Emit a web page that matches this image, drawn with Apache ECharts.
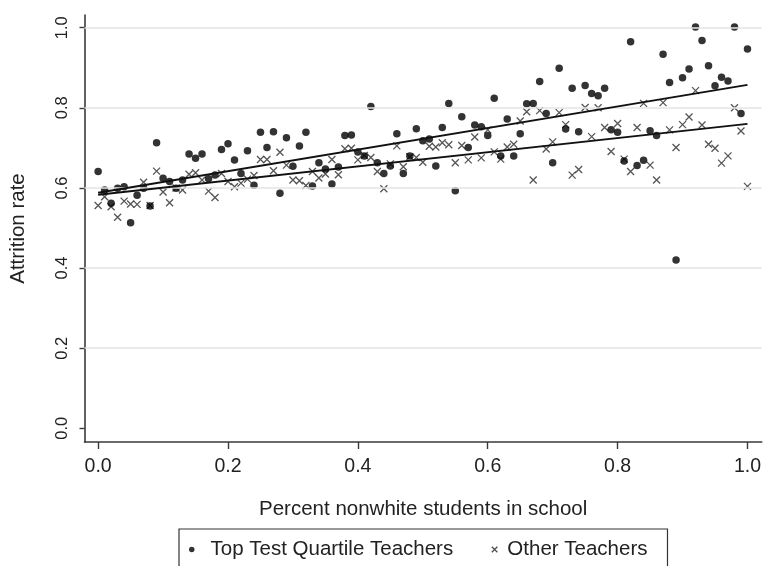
<!DOCTYPE html>
<html>
<head>
<meta charset="utf-8">
<script src="https://cdn.jsdelivr.net/npm/echarts@6/dist/echarts.min.js"></script>
<style>
html,body{margin:0;padding:0;background:#fff;}
#chart{width:764px;height:566px;}
</style>
</head>
<body>
<div id="chart"></div>
<script>
// Percentile bins of "percent nonwhite students in school"
const xBins = [
  0.00,0.01,0.02,0.03,0.04,0.05,0.06,0.07,0.08,0.09,
  0.10,0.11,0.12,0.13,0.14,0.15,0.16,0.17,0.18,0.19,
  0.20,0.21,0.22,0.23,0.24,0.25,0.26,0.27,0.28,0.29,
  0.30,0.31,0.32,0.33,0.34,0.35,0.36,0.37,0.38,0.39,
  0.40,0.41,0.42,0.43,0.44,0.45,0.46,0.47,0.48,0.49,
  0.50,0.51,0.52,0.53,0.54,0.55,0.56,0.57,0.58,0.59,
  0.60,0.61,0.62,0.63,0.64,0.65,0.66,0.67,0.68,0.69,
  0.70,0.71,0.72,0.73,0.74,0.75,0.76,0.77,0.78,0.79,
  0.80,0.81,0.82,0.83,0.84,0.85,0.86,0.87,0.88,0.89,
  0.90,0.91,0.92,0.93,0.94,0.95,0.96,0.97,0.98,0.99,
  1.00
];
// Attrition rate, top test quartile teachers
const topQuartile = [
  0.641,0.595,0.562,0.599,0.603,0.513,0.582,0.599,0.555,0.713,
  0.624,0.616,0.599,0.620,0.685,0.674,0.685,0.623,0.632,0.696,
  0.710,0.670,0.636,0.693,0.607,0.739,0.701,0.740,0.587,0.725,
  0.654,0.705,0.739,0.605,0.663,0.647,0.610,0.652,0.731,0.732,
  0.690,0.680,0.803,0.663,0.636,0.655,0.735,0.636,0.680,0.748,
  0.718,0.722,0.655,0.751,0.811,0.593,0.778,0.701,0.757,0.753,
  0.731,0.824,0.680,0.772,0.680,0.735,0.810,0.811,0.866,0.786,
  0.663,0.899,0.747,0.849,0.740,0.856,0.836,0.830,0.849,0.745,
  0.739,0.667,0.965,0.656,0.669,0.743,0.731,0.934,0.863,0.420,
  0.875,0.897,1.002,0.968,0.905,0.855,0.876,0.867,1.002,0.786,
  0.947
];
// Attrition rate, other teachers
const otherTeachers = [
  0.556,0.578,0.553,0.527,0.567,0.560,0.559,0.614,0.556,0.642,
  0.590,0.563,0.600,0.595,0.634,0.638,0.620,0.592,0.576,0.636,
  0.616,0.603,0.612,0.622,0.631,0.671,0.671,0.643,0.689,0.657,
  0.620,0.618,0.606,0.641,0.625,0.635,0.671,0.633,0.698,0.699,
  0.670,0.681,0.676,0.641,0.598,0.660,0.705,0.653,0.678,0.676,
  0.664,0.704,0.702,0.713,0.708,0.663,0.706,0.670,0.727,0.675,
  0.745,0.690,0.672,0.702,0.709,0.767,0.790,0.620,0.793,0.697,
  0.715,0.788,0.758,0.632,0.646,0.801,0.728,0.800,0.751,0.691,
  0.761,0.672,0.641,0.751,0.811,0.657,0.620,0.813,0.745,0.701,
  0.758,0.777,0.843,0.757,0.709,0.699,0.662,0.680,0.800,0.742,
  0.604
];
// Fitted lines (endpoints)
const fitX = [0, 1];
const topFit = [0.588, 0.857];
const otherFit = [0.583, 0.760];
// Tick labels
const xTicks = [0, 0.2, 0.4, 0.6, 0.8, 1.0];
const yTicks = [0, 0.2, 0.4, 0.6, 0.8, 1.0];
const yGrid = [0.2, 0.4, 0.6, 0.8, 1.0];
const seriesNames = ['Top Test Quartile Teachers', 'Other Teachers'];
const xTitle = 'Percent nonwhite students in school';
const yTitle = 'Attrition rate';

const FONT = '"Liberation Sans", Arial, Helvetica, sans-serif';
const TXT = '#222';
const CROSS = 'path://M0,0L10,10M10,0L0,10';

const chart = echarts.init(document.getElementById('chart'), null, {renderer: 'canvas'});
chart.setOption({
  animation: false,
  backgroundColor: '#fff',
  grid: {left: 83, right: 2, top: 15, bottom: 124, containLabel: false},
  xAxis: {
    type: 'value',
    min: -0.021, max: 1.022,
    name: xTitle,
    nameLocation: 'middle',
    nameGap: 57,
    nameTextStyle: {fontFamily: FONT, fontSize: 20.5, color: TXT},
    axisLine: {show: true, onZero: false, lineStyle: {color: '#3a3a3a', width: 1.6}},
    axisTick: {show: true, length: 7, customValues: xTicks, lineStyle: {color: '#3a3a3a', width: 1.4}},
    axisLabel: {customValues: xTicks, margin: 15, fontFamily: FONT, fontSize: 19.5, color: TXT,
      formatter: v => v.toFixed(1)},
    splitLine: {show: false}
  },
  yAxis: {
    type: 'value',
    min: -0.0342, max: 1.0317,
    name: yTitle,
    nameLocation: 'middle',
    nameRotate: 90,
    nameGap: 55.5,
    nameTextStyle: {fontFamily: FONT, fontSize: 20.5, color: TXT},
    axisLine: {show: true, onZero: false, lineStyle: {color: '#3a3a3a', width: 1.6}},
    axisTick: {show: true, length: 5, customValues: yTicks, lineStyle: {color: '#3a3a3a', width: 1.4}},
    axisLabel: {customValues: yTicks, rotate: 90, margin: 14, fontFamily: FONT, fontSize: 16.5, color: TXT,
      formatter: v => v.toFixed(1)},
    splitLine: {show: false}
  },
  legend: {
    left: 179, top: 529,
    orient: 'horizontal',
    borderColor: '#333', borderWidth: 1.2, borderRadius: 0,
    padding: [10, 20, 12, 10],
    itemWidth: 5.5, itemHeight: 5.5, itemGap: 38,
    textStyle: {fontFamily: FONT, fontSize: 20.5, color: TXT},
    data: [
      {name: seriesNames[0], icon: 'circle', itemStyle: {color: '#000'}, textStyle: {padding: [0, 0, 0, 11]}},
      {name: seriesNames[1], icon: CROSS, itemStyle: {color: '#222', borderColor: '#222', borderWidth: 1.3}, textStyle: {padding: [0, 0, 0, 5]}}
    ]
  },
  series: [
    {
      name: 'grid', type: 'line', data: [], z: 1, silent: true,
      markLine: {
        silent: true, symbol: ['none', 'none'], label: {show: false}, animation: false,
        lineStyle: {color: '#e4e4e4', type: 'solid', width: 1.6},
        data: yGrid.map(v => ({yAxis: v}))
      }
    },
    {
      name: seriesNames[1], type: 'scatter', z: 3,
      symbol: CROSS, symbolSize: 7,
      itemStyle: {color: '#2a2a2a', borderColor: '#2a2a2a', borderWidth: 1.3},
      data: xBins.map((x, i) => [x, otherTeachers[i]])
    },
    {
      name: seriesNames[0], type: 'scatter', z: 4,
      symbol: 'circle', symbolSize: 7.5,
      itemStyle: {color: '#000'},
      data: xBins.map((x, i) => [x, topQuartile[i]])
    },
    {
      name: 'fitTop', type: 'line', z: 5, showSymbol: false, symbol: 'none',
      lineStyle: {color: '#111', width: 1.8},
      data: fitX.map((x, i) => [x, topFit[i]])
    },
    {
      name: 'fitOther', type: 'line', z: 5, showSymbol: false, symbol: 'none',
      lineStyle: {color: '#111', width: 1.8},
      data: fitX.map((x, i) => [x, otherFit[i]])
    }
  ]
});
</script>
</body>
</html>
